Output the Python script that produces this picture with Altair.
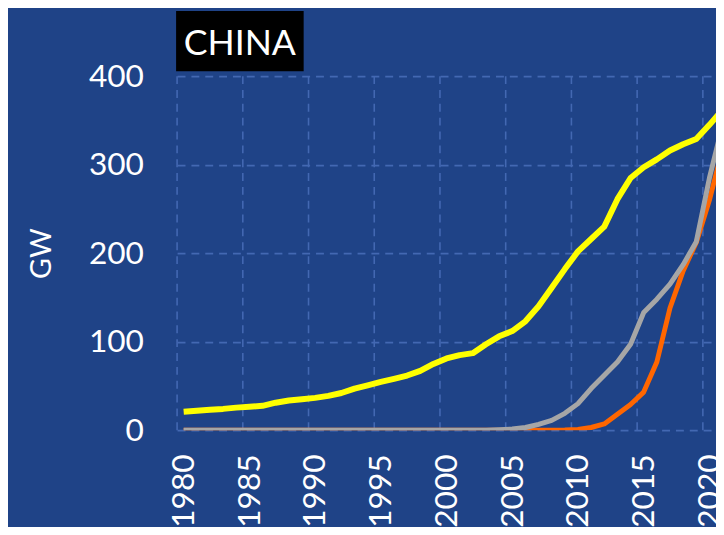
import altair as alt
import pandas as pd

years = list(range(1980, 2022))
hydro = [20.8, 22, 23, 24, 25.5, 26.4, 27.5, 31, 33.5, 35,
         36.5, 38.7, 42, 47, 50.6, 54.5, 58, 61.7, 67, 74.8,
         81, 84.8, 87, 97, 106, 112, 123, 140, 161, 182,
         202, 216, 230, 261, 285, 297, 306, 316, 323, 329,
         345, 362]
wind = [0] * 24 + [0.5, 1.3, 3, 6.5, 11, 19,
                   30, 47, 62, 77, 97, 133, 148, 165, 187, 213,
                   285, 345]
solar = [0] * 29 + [0.2,
                    0.8, 3, 7, 18, 29, 43, 77, 138, 180, 212,
                    260, 318]

x_ticks = [1980, 1985, 1990, 1995, 2000, 2005, 2010, 2015, 2020]
y_ticks = [0, 100, 200, 300, 400]
x_grid = [1979.5, 1984.5, 1989.5, 1994.5, 1999.5, 2004.5, 2009.5, 2014.5, 2019.5]

BG = "#1f4387"
GRID = "#4368b2"
FONT = "Lato"

df = pd.DataFrame({"year": years, "Hydro": hydro, "Wind": wind, "Solar": solar})
grid_df = pd.DataFrame({"g": x_grid})

xscale = alt.Scale(domain=[1979.5, 2020.5], nice=False, zero=False)
yscale = alt.Scale(domain=[0, 400], nice=False)

xaxis = alt.Axis(values=x_ticks, format="d", labelAngle=-90, labelFontSize=32,
                 labelColor="white", labelFont=FONT, domain=False, ticks=False,
                 grid=False, labelPadding=24, title=None, labelFlush=False,
                 labelOverlap=False)
yaxis = alt.Axis(values=y_ticks, labelFontSize=32, labelColor="white", labelFont=FONT,
                 domain=False, ticks=False, grid=True, gridColor=GRID, gridDash=[8, 6],
                 gridWidth=1.6, labelPadding=34, title="GW", titleFont=FONT,
                 titleFontSize=29, titleFontWeight="normal", titleColor="white",
                 titleX=-137, titleY=179, titleAngle=-90, titleBaseline="middle",
                 titleAlign="center")

base = alt.Chart(df)

axes_layer = base.mark_line(opacity=0).encode(
    x=alt.X("year:Q", scale=xscale, axis=xaxis),
    y=alt.Y("Hydro:Q", scale=yscale, axis=yaxis),
)

vgrid = alt.Chart(grid_df).mark_rule(color=GRID, strokeDash=[8, 6], strokeWidth=1.6).encode(
    x=alt.X("g:Q", scale=xscale)
)

def series(col, color, width):
    return base.mark_line(color=color, strokeWidth=width, clip=True,
                          strokeJoin="round", strokeCap="butt").encode(
        x=alt.X("year:Q", scale=xscale),
        y=alt.Y(f"{col}:Q", scale=yscale),
    )

title_df = pd.DataFrame({"t": ["CHINA"]})
title_box = alt.Chart(title_df).mark_rect(color="black").encode(
    x=alt.value(-1), x2=alt.value(128), y=alt.value(-66), y2=alt.value(-5)
)
title_text = alt.Chart(title_df).mark_text(
    color="white", font=FONT, fontSize=36, align="center", baseline="alphabetic"
).encode(x=alt.value(63.5), y=alt.value(-21), text="t:N")

chart = alt.layer(
    vgrid, axes_layer,
    series("Hydro", "#ffff00", 6),
    series("Solar", "#ff6600", 5),
    series("Wind", "#a6a6a6", 5),
    title_box, title_text,
).properties(
    width=545, height=358, background=BG,
    padding={"left": 171, "top": 66, "right": 0, "bottom": 95},
    autosize=alt.AutoSizeParams(type="none"),
).configure_view(stroke=None)

chart.save("out.html", embed_options={"renderer": "svg", "actions": False})
